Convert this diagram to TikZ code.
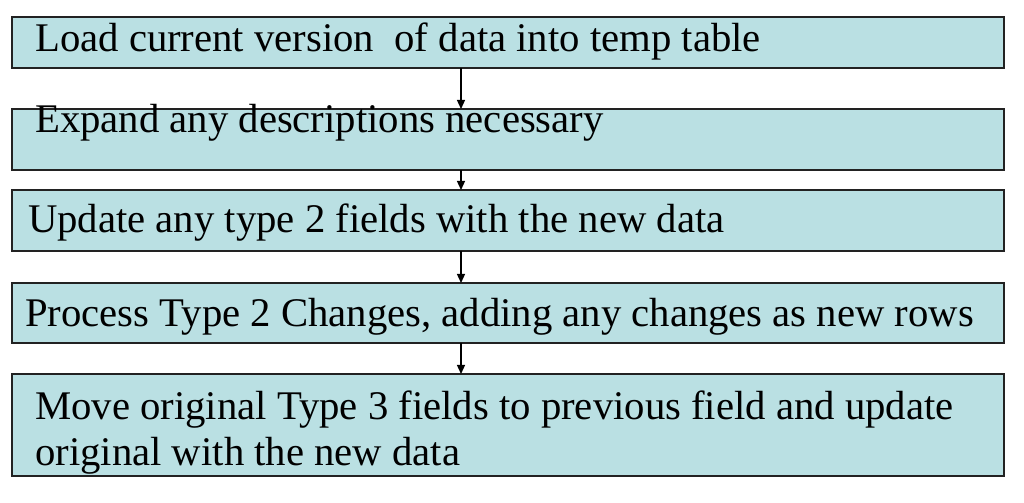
\documentclass[tikz,border=0pt]{standalone}
\usepackage{fontspec}
\setmainfont{Liberation Serif}
\usetikzlibrary{arrows.meta}
\definecolor{boxfill}{HTML}{BAE0E3}
\definecolor{boxline}{HTML}{222222}
\tikzset{
  x=1bp, y=1bp,
  stepbox/.style={draw=boxline, line width=1.3bp, fill=boxfill, minimum width=992bp, inner sep=0pt, outer sep=0pt},
  steptext/.style={anchor=base west, inner sep=0pt, font=\fontsize{40.7bp}{46bp}\selectfont, align=left},
  arr/.style={draw=black, line width=1.3bp, -{Triangle[length=9bp,width=8bp]}}
}
\begin{document}
\begin{tikzpicture}
\useasboundingbox (0,0) rectangle (1024,503);
\node[stepbox, minimum height=51bp] (b1) at (508,460.5) {};
\node[stepbox, minimum height=61bp] (b2) at (508,363.5) {};
\node[stepbox, minimum height=61bp] (b3) at (508,282.5) {};
\node[stepbox, minimum height=60bp] (b4) at (508,190) {};
\node[stepbox, minimum height=102bp] (b5) at (508,78) {};
\node[steptext] (t1) at (35,451) {Load current version \ of data into temp table};
\node[steptext] (t2) at (35,370) {Expand any descriptions necessary};
\node[steptext] (t3) at (28,270) {Update any type 2 fields with the new data};
\node[steptext] (t4) at (25,176) {Process Type 2 Changes, adding any changes as new rows};
\node[steptext] (t5) at (35,37) {Move original Type 3 fields to previous field and update\\original with the new data};
\coordinate (ax) at (461,0);
\draw[arr] (b1.south -| ax) -- (b2.north -| ax);
\draw[arr] (b2.south -| ax) -- (b3.north -| ax);
\draw[arr] (b3.south -| ax) -- (b4.north -| ax);
\draw[arr] (b4.south -| ax) -- (b5.north -| ax);
\end{tikzpicture}
\end{document}
